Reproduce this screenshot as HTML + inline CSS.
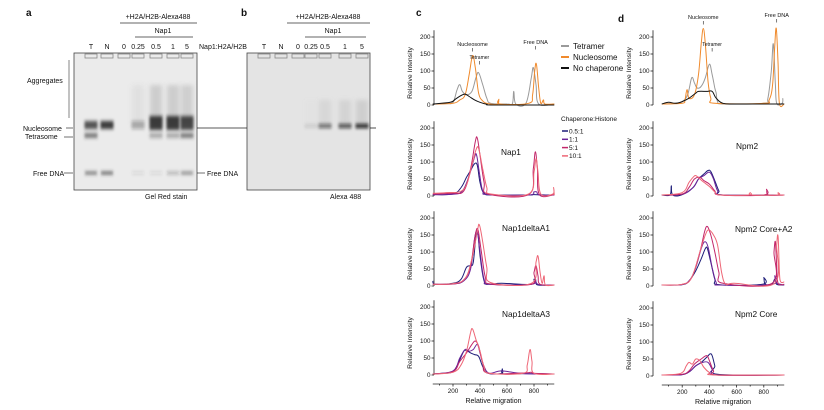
<!DOCTYPE html>
<html><head><meta charset="utf-8"><style>
html,body{margin:0;padding:0;background:#fff;}
svg{display:block;font-family:"Liberation Sans",Arial,sans-serif;}
</style></head><body>
<svg id="fig" width="824" height="410" viewBox="0 0 824 410">
<defs>
<filter id="bl" x="-50%" y="-200%" width="200%" height="500%"><feGaussianBlur stdDeviation="1.2 1.8"/></filter>
<filter id="bl2" x="-50%" y="-50%" width="200%" height="200%"><feGaussianBlur stdDeviation="2.5"/></filter>
</defs>
<g id="gels"></g>
<g id="charts"></g>
</svg>
<script>
// ---------- DATA ----------
const ratioLabels = ["0.5:1","1:1","5:1","10:1"];
const ratioColors = ["#1c1c78","#6a2398","#c2266a","#ee6676"];
const controlLabels = ["Tetramer","Nucleosome","No chaperone"];
const controlColors = ["#9a9a9a","#f08a2c","#111111"];
const yTicks = [0,50,100,150,200];
const xTicks = [200,400,600,800];
const cControl = [
 [[50,3],[150,4],[200,8],[230,45],[250,60],[270,40],[300,30],[340,40],[370,80],[390,95],[420,60],[450,20],[480,5],[600,3],[640,4],[650,40],[665,3],[740,5],[780,80],[795,110],[815,60],[835,3],[950,3]],
 [[50,3],[200,5],[250,15],[290,30],[320,90],[345,145],[365,110],[390,35],[420,12],[460,4],[530,3],[540,17],[550,3],[760,5],[790,30],[805,100],[818,120],[835,50],[850,5],[870,15],[880,3],[950,3]],
 [[50,3],[180,8],[220,18],[260,28],[290,32],[320,25],[360,15],[400,8],[450,2],[500,0],[950,0]]
];
const cNap1 = [
 [[50,4],[200,6],[260,25],[300,55],[330,75],[360,95],[380,90],[400,40],[430,8],[500,3],[760,3],[800,4],[900,3],[950,3]],
 [[50,4],[200,5],[270,15],[320,60],[360,115],[375,120],[395,70],[420,15],[460,4],[760,3],[800,12],[820,12],[840,3],[950,3]],
 [[50,6],[200,8],[280,15],[330,80],[365,160],[380,170],[400,120],[430,40],[460,6],[760,4],[795,80],[810,130],[825,80],[840,4],[950,4]],
 [[50,8],[150,10],[280,20],[340,90],[370,135],[390,140],[420,80],[450,25],[480,6],[760,6],[800,70],[815,110],[830,70],[850,6],[940,6],[945,25],[950,3]]
];
const cA1 = [
 [[50,15],[70,5],[200,8],[260,20],[300,55],[330,60],[350,70],[370,145],[385,150],[400,90],[430,15],[470,5],[560,8],[780,5],[800,20],[815,12],[830,3],[950,3]],
 [[50,5],[200,6],[280,15],[330,50],[360,140],[380,160],[400,100],[430,20],[470,5],[780,5],[810,20],[830,5],[950,3]],
 [[50,5],[200,6],[280,18],[330,60],[365,150],[385,165],[410,100],[440,25],[480,6],[780,5],[800,40],[815,60],[830,30],[845,5],[950,3]],
 [[50,5],[200,7],[290,22],[340,80],[380,160],[395,180],[420,130],[450,55],[480,10],[780,8],[815,70],[830,88],[845,40],[860,8],[875,30],[885,3],[950,3]]
];
const cA3 = [
 [[50,3],[120,5],[200,10],[250,45],[280,70],[300,72],[330,65],[360,60],[390,55],[420,25],[460,5],[560,5],[565,18],[575,3],[720,4],[950,3]],
 [[50,3],[200,12],[250,50],[290,75],[320,70],[350,75],[380,90],[400,65],[430,25],[470,5],[560,12],[720,4],[950,3]],
 [[50,3],[200,10],[250,40],[300,65],[340,90],[365,100],[390,85],[420,35],[460,5],[720,6],[780,8],[800,5],[950,3]],
 [[50,3],[200,8],[260,30],[300,70],[330,125],[345,135],[370,105],[400,70],[430,25],[470,5],[720,5],[750,30],[770,75],[785,40],[800,5],[950,3]]
];
const dControl = [
 [[50,3],[150,5],[200,10],[240,30],[270,80],[290,65],[310,50],[340,55],[370,80],[400,120],[420,90],[440,50],[450,35],[460,10],[500,3],[800,5],[830,20],[855,100],[870,180],[885,60],[895,5],[935,5],[940,20]],
 [[50,3],[200,5],[220,15],[235,45],[250,20],[290,30],[320,90],[340,180],[355,225],[370,180],[390,70],[410,20],[440,5],[800,5],[840,15],[865,60],[880,170],[892,225],[905,120],[915,5],[950,3]],
 [[50,3],[100,8],[150,5],[200,10],[250,20],[300,35],[320,40],[380,40],[420,40],[450,20],[500,5],[600,3],[950,3]]
];
const dNpm2 = [
 [[50,3],[110,3],[120,30],[130,3],[200,4],[280,25],[320,50],[360,65],[390,75],[410,72],[440,45],[470,15],[500,3],[950,3]],
 [[50,3],[200,5],[280,25],[320,50],[360,60],[400,70],[430,50],[460,15],[500,3],[950,3]],
 [[50,3],[200,6],[250,25],[290,50],[330,55],[360,45],[400,35],[440,15],[480,3],[800,3],[820,20],[835,3],[950,3]],
 [[50,3],[200,10],[250,40],[280,55],[300,60],[330,50],[360,40],[400,28],[440,12],[480,3],[690,3],[700,10],[710,3],[900,3],[905,10],[910,3],[950,3]]
];
const dCoreA2 = [
 [[50,3],[200,4],[250,15],[300,45],[340,80],[370,110],[385,110],[410,70],[440,20],[470,4],[790,5],[800,25],[810,5],[860,5],[880,20],[895,5],[950,3]],
 [[50,3],[200,4],[260,20],[300,55],[340,110],[365,130],[390,115],[420,55],[450,10],[480,3],[860,5],[880,30],[890,10],[950,3]],
 [[50,3],[200,5],[270,25],[330,100],[365,160],[385,175],[410,150],[440,100],[470,40],[500,8],[860,8],[875,100],[885,130],[895,60],[905,8],[950,5]],
 [[50,3],[200,5],[270,25],[330,100],[370,150],[395,165],[430,150],[460,120],[490,40],[520,5],[580,8],[880,8],[895,120],[905,145],[915,40],[925,12],[950,12]]
];
const dCore = [
 [[50,3],[200,4],[260,15],[300,30],[340,40],[380,55],[405,65],[420,60],[440,30],[460,5],[950,3]],
 [[50,3],[200,4],[260,15],[300,30],[350,40],[390,40],[420,20],[450,3],[950,3]],
 [[50,3],[200,5],[250,15],[290,35],[340,50],[380,60],[400,45],[430,15],[460,3],[950,3]],
 [[50,3],[190,8],[230,30],[250,40],[275,35],[300,50],[330,45],[360,25],[400,10],[440,3],[950,3]]
];

// ---------- HELPERS ----------
const NS="http://www.w3.org/2000/svg";
function mk(tag,attrs,parent){const e=document.createElementNS(NS,tag);for(const k in attrs)e.setAttribute(k,attrs[k]);parent.appendChild(e);return e;}
function txt(s,x,y,size,parent,anchor){const t=mk("text",{x:x,y:y,"font-size":size,fill:"#111","text-anchor":anchor||"start"},parent);t.textContent=s;return t;}
function smooth(p){
  let d="M"+p[0][0].toFixed(1)+","+p[0][1].toFixed(1);
  for(let i=0;i<p.length-1;i++){
    const p0=p[Math.max(0,i-1)],p1=p[i],p2=p[i+1],p3=p[Math.min(p.length-1,i+2)];
    const t=0.18;
    const c1x=p1[0]+(p2[0]-p0[0])*t,c1y=p1[1]+(p2[1]-p0[1])*t;
    const c2x=p2[0]-(p3[0]-p1[0])*t,c2y=p2[1]-(p3[1]-p1[1])*t;
    d+="C"+c1x.toFixed(1)+","+c1y.toFixed(1)+" "+c2x.toFixed(1)+","+c2y.toFixed(1)+" "+p2[0].toFixed(1)+","+p2[1].toFixed(1);
  }
  return d;
}

const charts=document.getElementById("charts");
const gels=document.getElementById("gels");

function panel(cfg){
  const g=mk("g",{},charts);
  
  
  const x0=cfg.ax, y0=cfg.y0, k=68/200;
  const xs=v=>cfg.xz+(v)*cfg.xs;
  const ys=v=>y0-v*k;
  const ya=mk("g",{},g);
  
  
  mk("line",{x1:x0,y1:ys(0),x2:x0,y2:ys(220),stroke:"#222","stroke-width":0.8},ya);
  yTicks.forEach(t=>{mk("line",{x1:x0-2.5,y1:ys(t),x2:x0,y2:ys(t),stroke:"#222","stroke-width":0.8},ya);
    const l=txt(String(t),x0-3.5,ys(t)+2.2,6.3,ya,"end");});
  const yl=txt("Relative  Intensity",0,0,6.8,ya,"middle");
  yl.setAttribute("transform","translate("+(x0-22)+","+(ys(100)+2)+") rotate(-90)");
  
  
  cfg.series.forEach((s,i)=>{
    const p=mk("path",{d:smooth(s.map(q=>[xs(q[0]),ys(q[1])])),fill:"none",stroke:cfg.colors[i],"stroke-width":1,"stroke-linejoin":"round"},g);
    
    
  });
  if(cfg.title){const t=txt(cfg.title,cfg.tx,cfg.ty,8.3,g,"start");}
  if(cfg.xaxis){
    const xa=mk("g",{},g);
    
    
    const yb=y0+9;
    mk("line",{x1:xs(50),y1:yb,x2:xs(950),y2:yb,stroke:"#222","stroke-width":0.8},xa);
    [100,200,300,400,500,600,700,800,900].forEach(t=>mk("line",{x1:xs(t),y1:yb,x2:xs(t),y2:yb+(t%200==0?2.5:1.5),stroke:"#222","stroke-width":0.8},xa));
    xTicks.forEach(t=>{const l=txt(String(t),xs(t),yb+9,6.3,xa,"middle");});
    const xl=txt("Relative migration",xs(500),yb+19,7,xa,"middle");
    
    
  }
  return {g,xs,ys};
}

const c1=panel({name:"panel-c-controls",ax:434,y0:105,xz:426,xs:27/200,series:cControl,colors:controlColors,labels:controlLabels});
panel({name:"panel-c-nap1",ax:434,y0:196,xz:426,xs:27/200,series:cNap1,colors:ratioColors,labels:ratioLabels,title:"Nap1",tx:501,ty:155});
panel({name:"panel-c-nap1deltaa1",ax:434,y0:286,xz:426,xs:27/200,series:cA1,colors:ratioColors,labels:ratioLabels,title:"Nap1deltaA1",tx:502,ty:231});
panel({name:"panel-c-nap1deltaa3",ax:434,y0:375,xz:426,xs:27/200,series:cA3,colors:ratioColors,labels:ratioLabels,title:"Nap1deltaA3",tx:502,ty:317,xaxis:true});
const d1=panel({name:"panel-d-controls",ax:653,y0:105,xz:655,xs:27.2/200,series:dControl,colors:controlColors,labels:controlLabels});
panel({name:"panel-d-npm2",ax:653,y0:196,xz:655,xs:27.2/200,series:dNpm2,colors:ratioColors,labels:ratioLabels,title:"Npm2",tx:736,ty:149});
panel({name:"panel-d-npm2-core-a2",ax:653,y0:286,xz:655,xs:27.2/200,series:dCoreA2,colors:ratioColors,labels:ratioLabels,title:"Npm2 Core+A2",tx:735,ty:232});
panel({name:"panel-d-npm2-core",ax:653,y0:376,xz:655,xs:27.2/200,series:dCore,colors:ratioColors,labels:ratioLabels,title:"Npm2 Core",tx:735,ty:317,xaxis:true});

function ann(s,x,y,size){const t=txt(s,x,y,size,charts,"middle");mk("line",{x1:x,y1:y+2,x2:x,y2:y+5.5,stroke:"#222","stroke-width":0.6},charts);}
ann("Nucleosome",c1.xs(345),46,5.5);ann("Tetramer",c1.xs(395),59,5);ann("Free DNA",c1.xs(812),44,5.5);
ann("Nucleosome",d1.xs(355),19,5.5);ann("Tetramer",d1.xs(420),46,5);ann("Free DNA",d1.xs(895),17,5.5);

const lg1=mk("g",{},charts);


controlLabels.forEach((l,i)=>{const y=46+i*11;mk("line",{x1:561,y1:y,x2:569,y2:y,stroke:controlColors[i],"stroke-width":2},lg1);const t=txt(l,573,y+2.8,8,lg1);});
const lg2=mk("g",{},charts);


const lt=txt("Chaperone:Histone",561,121,6.5,lg2);
ratioLabels.forEach((l,i)=>{const y=131+i*8.3;mk("line",{x1:562,y1:y,x2:568,y2:y,stroke:ratioColors[i],"stroke-width":1.5},lg2);const t=txt(l,569,y+2.3,6.5,lg2);});

[["a",26,16],["b",241,16],["c",416,16],["d",618,22]].forEach(p=>{const t=txt(p[0],p[1],p[2],10,charts);t.setAttribute("font-weight","bold");});

// ---------- GELS ----------
const laneLabels=["T","N","0","0.25","0.5","1","5"];
const gelALanes=[91,107,124,138,156,173,187];
const gelBLanes=[264,281,298,311,325,345,362];
const gelANuc=[0.75,0.85,0,0.3,0.85,0.85,0.8];
const gelATet=[0.6,0,0,0,0.35,0.35,0.6];
const gelAFree=[0.65,0.75,0,0.1,0.1,0.3,0.55];
const gelBNuc=[0,0,0,0.1,0.6,0.75,0.95];

function gel(x,w,lanes,bg,name){
  const g=mk("g",{},gels);
  
  
  mk("rect",{x:x,y:53,width:w,height:137,fill:bg,stroke:"#444","stroke-width":0.8},g);
  lanes.forEach(lx=>mk("rect",{x:lx-6,y:54,width:12,height:4,fill:"none",stroke:"#888","stroke-width":0.8},g));
  const lbl=mk("g",{},gels);
  
  
  lanes.forEach((lx,i)=>{txt(laneLabels[i],lx,49,7,lbl,"middle");});
  return g;
}
const ga=gel(74,123,gelALanes,"#ebebeb","gel-a");
gelALanes.forEach((lx,i)=>{
  if(gelANuc[i]>0){
    if(i>=3) mk("rect",{x:lx-6,y:85,width:12,height:40,fill:"#777","fill-opacity":gelANuc[i]*0.3,filter:"url(#bl2)"},ga);
    mk("rect",{x:lx-6.5,y:i>=4?116:121,width:13,height:i>=4?14:8,fill:"#222","fill-opacity":gelANuc[i],filter:"url(#bl)"},ga);}
  if(gelATet[i]>0)mk("rect",{x:lx-6.5,y:133,width:13,height:5,fill:"#333","fill-opacity":gelATet[i],filter:"url(#bl)"},ga);
  if(gelAFree[i]>0)mk("rect",{x:lx-6,y:171.5,width:12,height:3,fill:"#333","fill-opacity":gelAFree[i],filter:"url(#bl)"},ga);
});
const gb=gel(247,123,gelBLanes,"#e4e4e4","gel-b");
gelBLanes.forEach((lx,i)=>{
  if(gelBNuc[i]>0){
    mk("rect",{x:lx-6,y:100,width:12,height:25,fill:"#999","fill-opacity":gelBNuc[i]*0.3,filter:"url(#bl2)"},gb);
    mk("rect",{x:lx-6.5,y:124,width:13,height:4,fill:"#111","fill-opacity":gelBNuc[i],filter:"url(#bl)"},gb);}
});
const gA=mk("g",{},gels);


txt("+H2A/H2B-Alexa488",158,19,7,gA,"middle");mk("line",{x1:120,y1:23,x2:197,y2:23,stroke:"#333","stroke-width":0.7},gA);
txt("Nap1",163,33,7,gA,"middle");mk("line",{x1:135,y1:37,x2:193,y2:37,stroke:"#333","stroke-width":0.7},gA);
txt("Nap1:H2A/H2B",199,49,7,gA);
txt("+H2A/H2B-Alexa488",328,19,7,gA,"middle");mk("line",{x1:287,y1:23,x2:370,y2:23,stroke:"#333","stroke-width":0.7},gA);
txt("Nap1",333,33,7,gA,"middle");mk("line",{x1:305,y1:37,x2:366,y2:37,stroke:"#333","stroke-width":0.7},gA);
txt("Aggregates",27,83,7,gA);mk("line",{x1:69,y1:60,x2:69,y2:118,stroke:"#666","stroke-width":0.8},gA);
txt("Nucleosome",23,131,7,gA);mk("line",{x1:66,y1:128,x2:73,y2:128,stroke:"#333","stroke-width":0.7},gA);
txt("Tetrasome",25,139,7,gA);mk("line",{x1:64,y1:137,x2:73,y2:137,stroke:"#333","stroke-width":0.7},gA);
txt("Free DNA",33,176,7,gA);mk("line",{x1:64,y1:173,x2:73,y2:173,stroke:"#333","stroke-width":0.7},gA);
mk("line",{x1:197,y1:128,x2:247,y2:128,stroke:"#222","stroke-width":0.8},gA);
mk("line",{x1:370,y1:128,x2:376,y2:128,stroke:"#222","stroke-width":0.8},gA);
mk("line",{x1:197,y1:173,x2:205,y2:173,stroke:"#333","stroke-width":0.7},gA);
txt("Free DNA",207,176,7,gA);
txt("Gel Red stain",145,199,7,gA);
txt("Alexa 488",330,199,7,gA);
</script>
</body></html>
